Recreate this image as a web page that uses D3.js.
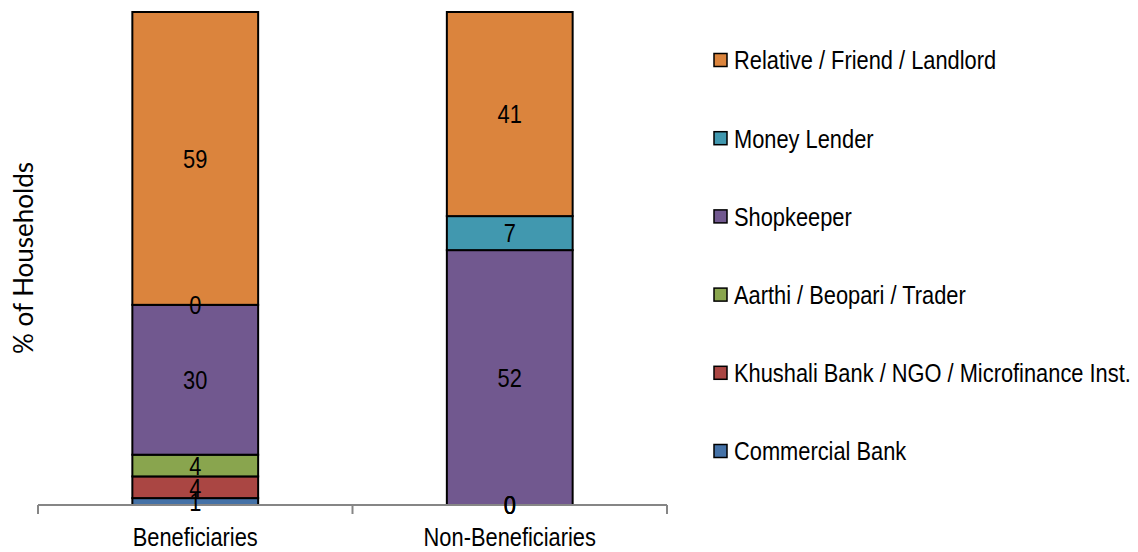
<!DOCTYPE html>
<html>
<head>
<meta charset="utf-8">
<script src="https://cdn.jsdelivr.net/npm/d3@7/dist/d3.min.js"></script>
<style>
  html, body { margin: 0; padding: 0; background: #fff; }
  svg { display: block; }
  .narrow { font-family: "Liberation Sans", Arial, sans-serif; }
</style>
</head>
<body>
<svg id="chart" width="1138" height="552"></svg>
<script>
// Source of credit, share of households (%)
const groups = ["Beneficiaries", "Non-Beneficiaries"];
const sources = [
  "Commercial Bank",
  "Khushali Bank / NGO / Microfinance Inst.",
  "Aarthi / Beopari / Trader",
  "Shopkeeper",
  "Money Lender",
  "Relative / Friend / Landlord"
];
const beneficiaries    = [1.4, 4.4, 4.4, 30.4, 0, 59.4];
const nonBeneficiaries = [0, 0, 0, 51.7, 6.9, 41.4];
const colors = ["#4572A7", "#AA4643", "#89A54E", "#71588F", "#4198AF", "#DB843D"];
const yTitle = "% of Households";

const svg = d3.select("#chart");
const NARROW = 0.84;   // horizontal squeeze for the condensed label face
const FS = 26;

const rows = groups.map((g, i) => {
  const vals = i === 0 ? beneficiaries : nonBeneficiaries;
  const r = { group: g };
  sources.forEach((s, j) => { r[s] = vals[j]; });
  return r;
});

const x = d3.scaleBand().domain(groups).range([38, 667]).paddingInner(0.6).paddingOuter(0.3);
const y = d3.scaleLinear().domain([0, 100]).range([505, 12]);
const color = d3.scaleOrdinal().domain(sources).range(colors);

const stack = d3.stack().keys(sources)(rows);

// condensed text: a group placed at (px, py), text squeezed horizontally
function narrowText(sel, px, py, anchor, dy) {
  const g = sel.append("g").attr("transform", d => `translate(${px(d)},${py(d)}) scale(${NARROW},1)`);
  return g.append("text")
    .attr("class", "narrow")
    .attr("text-anchor", anchor)
    .attr("dy", dy)
    .attr("font-size", FS)
    .attr("fill", "#000");
}

// stacked bars
const layers = svg.append("g").selectAll("g").data(stack).join("g")
  .attr("fill", d => color(d.key));
layers.selectAll("rect").data(d => d).join("rect")
  .attr("x", d => x(d.data.group))
  .attr("width", x.bandwidth())
  .attr("y", d => y(d[1]))
  .attr("height", d => y(d[0]) - y(d[1]))
  .attr("stroke", "#000")
  .attr("stroke-width", 2);

// category axis
const axis = svg.append("g").attr("transform", "translate(0,505)");
axis.append("line").attr("x1", 38).attr("x2", 667).attr("stroke", "#868686").attr("stroke-width", 2);
const tickPos = [38].concat(groups.map(g => x(g) - x.step() * x.paddingInner() / 2 + x.step()));
axis.selectAll("line.tick").data(tickPos).join("line").attr("class", "tick")
  .attr("x1", d => d).attr("x2", d => d).attr("y1", 0).attr("y2", 9)
  .attr("stroke", "#868686").attr("stroke-width", 2);
narrowText(axis.selectAll("g.cat").data(groups).join("g").attr("class", "cat"),
  d => x(d) + x.bandwidth() / 2, () => 41, "middle", 0)
  .text(d => d);

// value labels, drawn above every bar and the axis
const fmt = v => String(Math.round(v));
const labelLayer = svg.append("g");
stack.forEach(layer => {
  const cells = labelLayer.append("g").selectAll("g").data(layer).join("g");
  narrowText(cells,
    d => x(d.data.group) + x.bandwidth() / 2,
    d => (y(d[0]) + y(d[1])) / 2, "middle", "0.36em")
    .text(d => fmt(d[1] - d[0]));
});

// y title
svg.append("text")
  .attr("transform", "translate(33,258) rotate(-90)")
  .attr("text-anchor", "middle")
  .attr("font-family", "Lato, 'Open Sans', sans-serif")
  .attr("font-size", 26)
  .attr("fill", "#000")
  .text(yTitle);

// legend, top to bottom in reverse stacking order
const legend = svg.append("g").selectAll("g").data(sources.slice().reverse()).join("g")
  .attr("transform", (d, i) => `translate(714,${60 + i * 78.2})`);
legend.append("rect")
  .attr("x", 0).attr("y", -6.5).attr("width", 13).attr("height", 13)
  .attr("fill", d => color(d)).attr("stroke", "#000").attr("stroke-width", 1.5);
narrowText(legend, () => 20, () => 0, "start", "0.36em")
  .text(d => d);
</script>
</body>
</html>
